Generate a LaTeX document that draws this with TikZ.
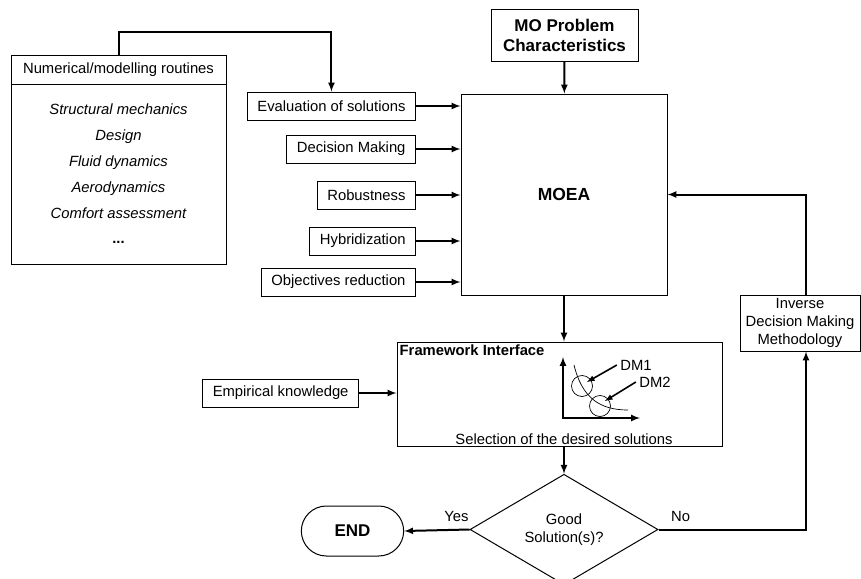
\documentclass[tikz,border=0pt]{standalone}
\usepackage{fontspec}
\setmainfont{Liberation Sans}
\usetikzlibrary{shapes.geometric,shapes.misc}
\tikzset{
  box/.style={draw,line width=1pt,inner sep=0pt,align=center},
  sbox/.style={draw,line width=1pt,inner xsep=10pt,minimum height=28pt,anchor=east},
  conn/.style={-latex,line width=2pt},
}
\begin{document}
\begin{tikzpicture}[x=1pt,y=-1pt,font=\fontsize{14.8}{17.7}\selectfont]
\useasboundingbox (0,0) rectangle (861,578);
\pgfmathsetmacro{\midx}{564}
\node[box,minimum width=215pt,minimum height=28pt](numt) at (118.5,70){Numerical/modelling routines};
\node[box,minimum width=215pt,minimum height=180pt,font=\fontsize{14.8}{25.8}\selectfont\itshape](numb) at (118.5,174){Structural mechanics\\Design\\Fluid dynamics\\Aerodynamics\\Comfort assessment\\\textbf{\upshape ...}};
\node[sbox](eval) at (416,106){Evaluation of solutions};
\node[sbox](dm) at (416,149){Decision Making};
\node[sbox](rob) at (416,195){Robustness};
\node[sbox](hyb) at (416,241){Hybridization};
\node[sbox](objr) at (416,282){Objectives reduction};
\node[box,minimum width=206pt,minimum height=201pt,font=\fontsize{17.5}{20}\selectfont\bfseries](moea) at (\midx,194.5){MOEA};
\node[box,minimum width=147pt,minimum height=51pt,font=\fontsize{17}{20.7}\selectfont\bfseries](mop) at (564.5,35.5){MO Problem\\Characteristics};
\node[box,minimum width=325pt,minimum height=104pt](fw) at (559.5,394){};
\node[anchor=north west,inner sep=3pt,font=\fontsize{14.8}{17}\selectfont\bfseries](fwt) at (fw.north west){Framework Interface};
\node[anchor=south,inner sep=1pt](sel) at (\midx,446){Selection of the desired solutions};
\node[sbox](emp) at (359,393){Empirical knowledge};
\node[box,minimum width=120pt,minimum height=56pt](inv) at (800,323){Inverse\\Decision Making\\Methodology};
\node[diamond,draw,line width=1pt,minimum width=188pt,minimum height=95pt,inner sep=0pt,align=center](good) at (\midx,529.5){Good\\Solution(s)?};
\node[rounded rectangle,draw,line width=1pt,minimum width=109pt,minimum height=50pt,font=\fontsize{17}{20}\selectfont\bfseries](endn) at (352.5,531){END};
\coordinate (nc) at (806,529.5);
\draw[conn](numt.north) -- ++(0,-23) -| (eval.north);
\foreach \n in {eval,dm,rob,hyb,objr} \draw[conn](\n.east) -- (\n.east -| moea.west);
\draw[conn](mop) -- (moea);
\draw[conn](moea.south) -- (moea.south |- fw.north);
\draw[conn](emp) -- (emp -| fw.west);
\draw[conn](fw.south -| good.north) -- (good.north);
\draw[conn](good.west) -- node[pos=0.2,above=4pt]{Yes}(endn.east);
\draw[conn](good.east) -- node[pos=0.15,above=4pt]{No}(nc) -- (nc |- inv.south);
\draw[conn](inv.north -| nc) |- (moea.east);
\draw[latex-latex,line width=2pt](563,357) |- (640,418);
\draw[line width=0.7pt](574,365) .. controls (582,398) and (600,410) .. (628,410);
\draw[line width=0.7pt](582,386) circle (10.5pt);
\draw[line width=0.7pt](600,406) circle (10.5pt);
\node(dm1) at (636,365){DM1};
\node(dm2) at (655,382){DM2};
\draw[-latex,line width=1.6pt](dm1.west) -- (587,382);
\draw[-latex,line width=1.6pt](dm2.west) -- (605,401);
\end{tikzpicture}
\end{document}
